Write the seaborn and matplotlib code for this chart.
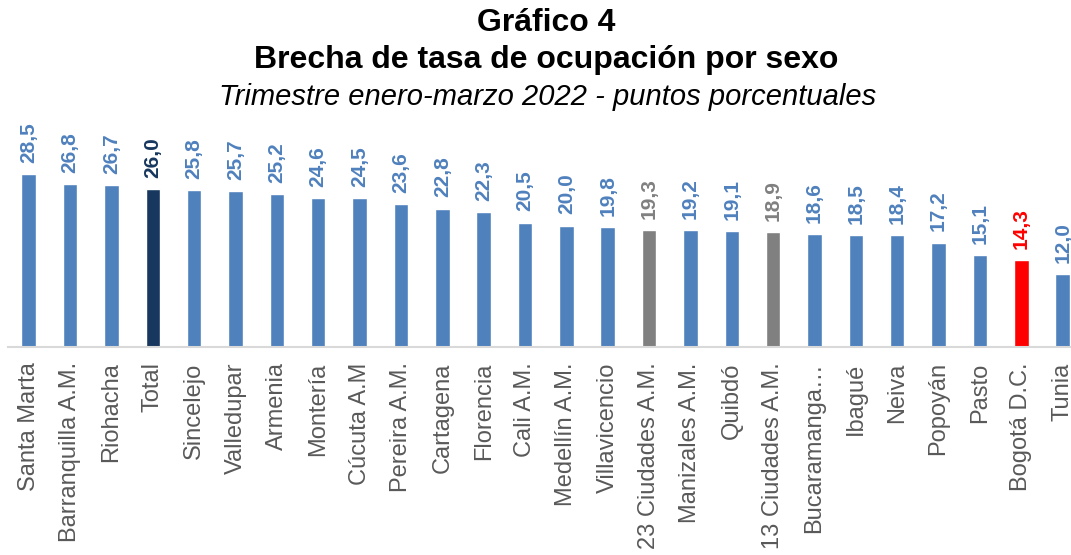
import matplotlib
matplotlib.use("Agg")
import matplotlib.pyplot as plt
import seaborn as sns
import pandas as pd

categorias = ["Santa Marta", "Barranquilla A.M.", "Riohacha", "Total", "Sincelejo",
              "Valledupar", "Armenia", "Montería", "Cúcuta A.M", "Pereira A.M.",
              "Cartagena", "Florencia", "Cali A.M.", "Medellín A.M.", "Villavicencio",
              "23 Ciudades A.M.", "Manizales A.M.", "Quibdó", "13 Ciudades A.M.",
              "Bucaramanga…", "Ibagué", "Neiva", "Popoyán", "Pasto", "Bogotá D.C.", "Tunia"]
valores = [28.5, 26.8, 26.7, 26.0, 25.8, 25.7, 25.2, 24.6, 24.5, 23.6, 22.8, 22.3, 20.5,
           20.0, 19.8, 19.3, 19.2, 19.1, 18.9, 18.6, 18.5, 18.4, 17.2, 15.1, 14.3, 12.0]

AZUL = "#4F81BD"
NAVY = "#17375E"
GRIS = "#808080"
ROJO = "#FF0000"
especiales = {"Total": NAVY, "23 Ciudades A.M.": GRIS, "13 Ciudades A.M.": GRIS, "Bogotá D.C.": ROJO}
colores = [especiales.get(c, AZUL) for c in categorias]

df = pd.DataFrame({"ciudad": categorias, "valor": valores})

sns.set_theme(style="white")
plt.rcParams["font.family"] = ["Liberation Sans", "DejaVu Sans"]

fig = plt.figure(figsize=(10.71, 5.55), dpi=100)
ax = fig.add_axes([8 / 1071, 208 / 555, 1063 / 1071, 240 / 555])

sns.barplot(data=df, x="ciudad", y="valor", hue="ciudad", palette=colores,
            legend=False, width=0.35, ax=ax, saturation=1)

ax.set_xlim(-0.5, -0.5 + 1063 / 41.36)
ax.set_ylim(0, 240 / 6.07)

for i, (v, c) in enumerate(zip(valores, colores)):
    ax.annotate(f"{v:.1f}".replace(".", ","), (i, v), xytext=(0, 8),
                textcoords="offset points", rotation=90, ha="center", va="bottom",
                fontsize=15, fontweight="bold", color=c)

for s in ["top", "right", "left"]:
    ax.spines[s].set_visible(False)
ax.spines["bottom"].set_color("#D9D9D9")
ax.spines["bottom"].set_linewidth(1.5)
ax.set_yticks([])
ax.set_xlabel("")
ax.set_ylabel("")
ax.tick_params(axis="x", length=0, pad=11, labelsize=17, labelcolor="#595959")
plt.setp(ax.get_xticklabels(), rotation=90, ha="center", va="top")

fig.text(0.51, 1 - 23 / 555, "Gráfico 4", ha="center", va="center",
         fontsize=23, fontweight="bold", color="black")
fig.text(0.51, 1 - 60 / 555, "Brecha de tasa de ocupación por sexo", ha="center",
         va="center", fontsize=23, fontweight="bold", color="black")
fig.text(0.511, 1 - 97 / 555, "Trimestre enero-marzo 2022 - puntos porcentuales",
         ha="center", va="center", fontsize=21, fontstyle="italic", color="black")

fig.savefig("out.png", dpi=100)
